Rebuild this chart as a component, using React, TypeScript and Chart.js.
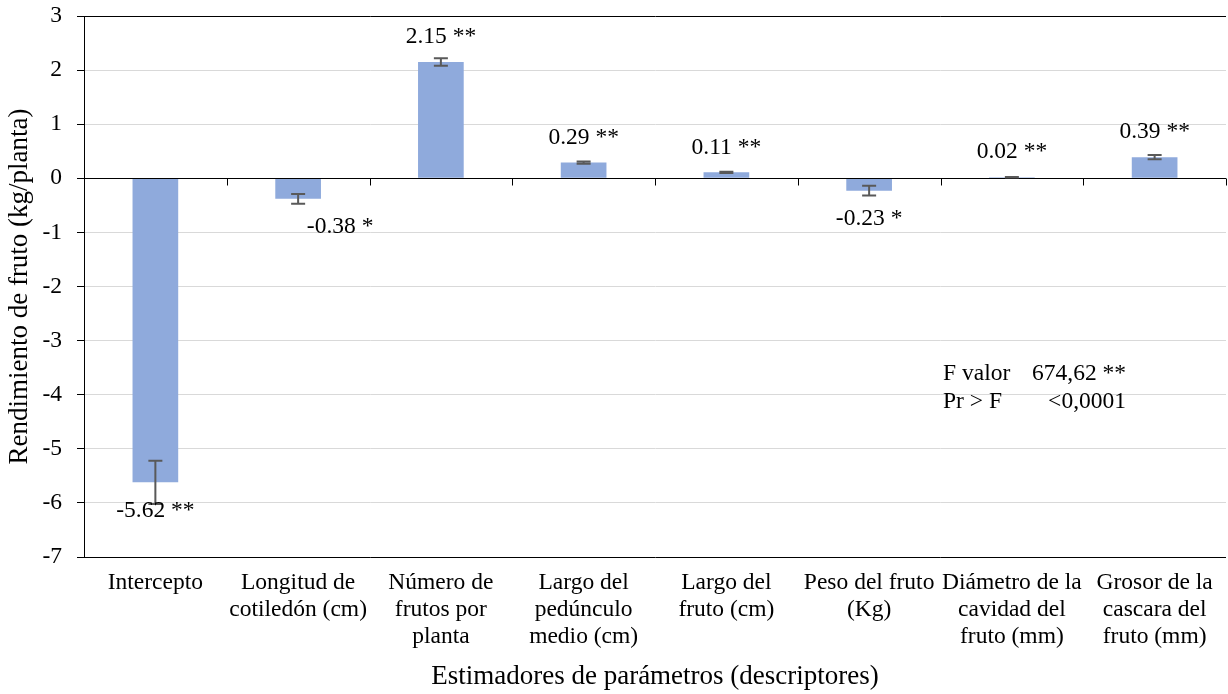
import React, { useEffect, useRef } from "react";
import { Chart, registerables } from "chart.js";

Chart.register(...registerables);

const categories: string[][] = [
  ["Intercepto"],
  ["Longitud de", "cotiledón (cm)"],
  ["Número de", "frutos por", "planta"],
  ["Largo del", "pedúnculo", "medio (cm)"],
  ["Largo del", "fruto (cm)"],
  ["Peso del fruto", "(Kg)"],
  ["Diámetro de la", "cavidad del", "fruto (mm)"],
  ["Grosor de la", "cascara del", "fruto (mm)"],
];
const estimates: number[] = [-5.62, -0.38, 2.15, 0.29, 0.11, -0.23, 0.02, 0.39];
const errors: number[] = [0.4, 0.09, 0.07, 0.02, 0.01, 0.09, 0.005, 0.04];
const significance: string[] = ["**", "*", "**", "**", "**", "*", "**", "**"];
const yTicks: number[] = [-7, -6, -5, -4, -3, -2, -1, 0, 1, 2, 3];
const statLines: string[][] = [
  ["F valor", "674,62 **"],
  ["Pr > F", "<0,0001"],
];

const FONT = "'Liberation Serif', 'Times New Roman', serif";
const FS = 23.5;
const TFS = 27;
const labelDx = [0, 42, 0, 0, 0, 0, 0, 0];

const overlay = {
  id: "overlay",
  afterDatasetsDraw(chart: any) {
    const { ctx, chartArea, scales } = chart;
    const x = scales.x;
    const y = scales.y;
    ctx.save();
    // zero axis line with category ticks
    const y0 = Math.round(y.getPixelForValue(0)) + 0.5;
    ctx.strokeStyle = "#000";
    ctx.lineWidth = 1;
    ctx.beginPath();
    ctx.moveTo(chartArea.left, y0);
    ctx.lineTo(chartArea.right, y0);
    for (let i = 0; i < estimates.length; i++) {
      const xb = Math.round(x.getPixelForValue(i + 0.5)) + 0.5;
      ctx.moveTo(xb, y0);
      ctx.lineTo(xb, y0 + 7);
    }
    ctx.stroke();

    // error bars
    ctx.strokeStyle = "#595959";
    ctx.lineWidth = 2;
    estimates.forEach((v, i) => {
      const xc = x.getPixelForValue(i);
      const yh = y.getPixelForValue(v + errors[i]);
      const yl = y.getPixelForValue(v - errors[i]);
      const cw = 7;
      ctx.beginPath();
      ctx.moveTo(xc, yh);
      ctx.lineTo(xc, yl);
      ctx.moveTo(xc - cw, yh);
      ctx.lineTo(xc + cw, yh);
      ctx.moveTo(xc - cw, yl);
      ctx.lineTo(xc + cw, yl);
      ctx.stroke();
    });

    // value labels
    ctx.fillStyle = "#000";
    ctx.font = `${FS}px ${FONT}`;
    ctx.textAlign = "center";
    ctx.textBaseline = "middle";
    estimates.forEach((v, i) => {
      const xc = x.getPixelForValue(i) + labelDx[i];
      const yp = y.getPixelForValue(v);
      const yy = v >= 0 ? yp - 25 : yp + 28;
      ctx.fillText(`${v.toFixed(2)} ${significance[i]}`, xc, yy);
    });

    // statistics box
    const lx = chartArea.left + 859;
    const rx = chartArea.left + 1042;
    statLines.forEach((row, j) => {
      const yy = chartArea.top + 358 + j * 28;
      ctx.textAlign = "left";
      ctx.fillText(row[0], lx, yy);
      ctx.textAlign = "right";
      ctx.fillText(row[1], rx, yy);
    });
    ctx.restore();
  },
};

export default function App() {
  const ref = useRef<HTMLCanvasElement | null>(null);
  useEffect(() => {
    if (!ref.current) return;
    const chart = new Chart(ref.current, {
      type: "bar",
      data: {
        labels: categories,
        datasets: [
          {
            data: estimates,
            backgroundColor: "#8FAADC",
            borderWidth: 0,
            categoryPercentage: 1,
            barPercentage: 0.32,
          },
        ],
      },
      options: {
        responsive: false,
        animation: false,
        layout: { padding: { left: 0, right: 2, top: 16, bottom: 0 } },
        plugins: { legend: { display: false }, tooltip: { enabled: false } },
        scales: {
          x: {
            grid: { display: false, drawTicks: false },
            border: { display: false },
            ticks: {
              autoSkip: false,
              maxRotation: 0,
              minRotation: 0,
              padding: 12.5,
              color: "#000",
              font: { family: FONT, size: FS, lineHeight: 1.15 },
            },
            title: {
              display: true,
              text: "Estimadores de parámetros (descriptores)",
              color: "#000",
              font: { family: FONT, size: TFS, lineHeight: 1.2 },
              padding: { top: 0, bottom: 1 },
            },
            afterFit: (s: any) => {
              s.height = 137;
              s.paddingLeft = 0;
              s.paddingRight = 0;
            },
          },
          y: {
            min: -7,
            max: 3,
            afterBuildTicks: (s: any) => {
              s.ticks = yTicks.map((v) => ({ value: v }));
            },
            grid: {
              color: (c: any) =>
                c.tick && (c.tick.value === 3 || c.tick.value === -7 || c.tick.value === 0)
                  ? "#000"
                  : "#D9D9D9",
              tickColor: "#000",
              tickLength: 7,
              lineWidth: 1,
            },
            border: { display: true, color: "#000", width: 1 },
            ticks: {
              padding: 15,
              color: "#000",
              font: { family: FONT, size: FS },
              callback: (v: any) => String(v),
            },
            title: {
              display: true,
              text: "Rendimiento de fruto (kg/planta)",
              color: "#000",
              font: { family: FONT, size: TFS, lineHeight: 1.2 },
              padding: { top: 4, bottom: 0 },
            },
            afterFit: (s: any) => {
              s.width = 84;
              s.paddingTop = 0;
              s.paddingBottom = 0;
            },
          },
        },
      },
      plugins: [overlay],
    });
    return () => chart.destroy();
  }, []);
  return (
    <canvas
      ref={ref}
      width={1228}
      height={694}
      style={{ position: "fixed", left: 0, top: 0, width: 1228, height: 694 }}
    />
  );
}
